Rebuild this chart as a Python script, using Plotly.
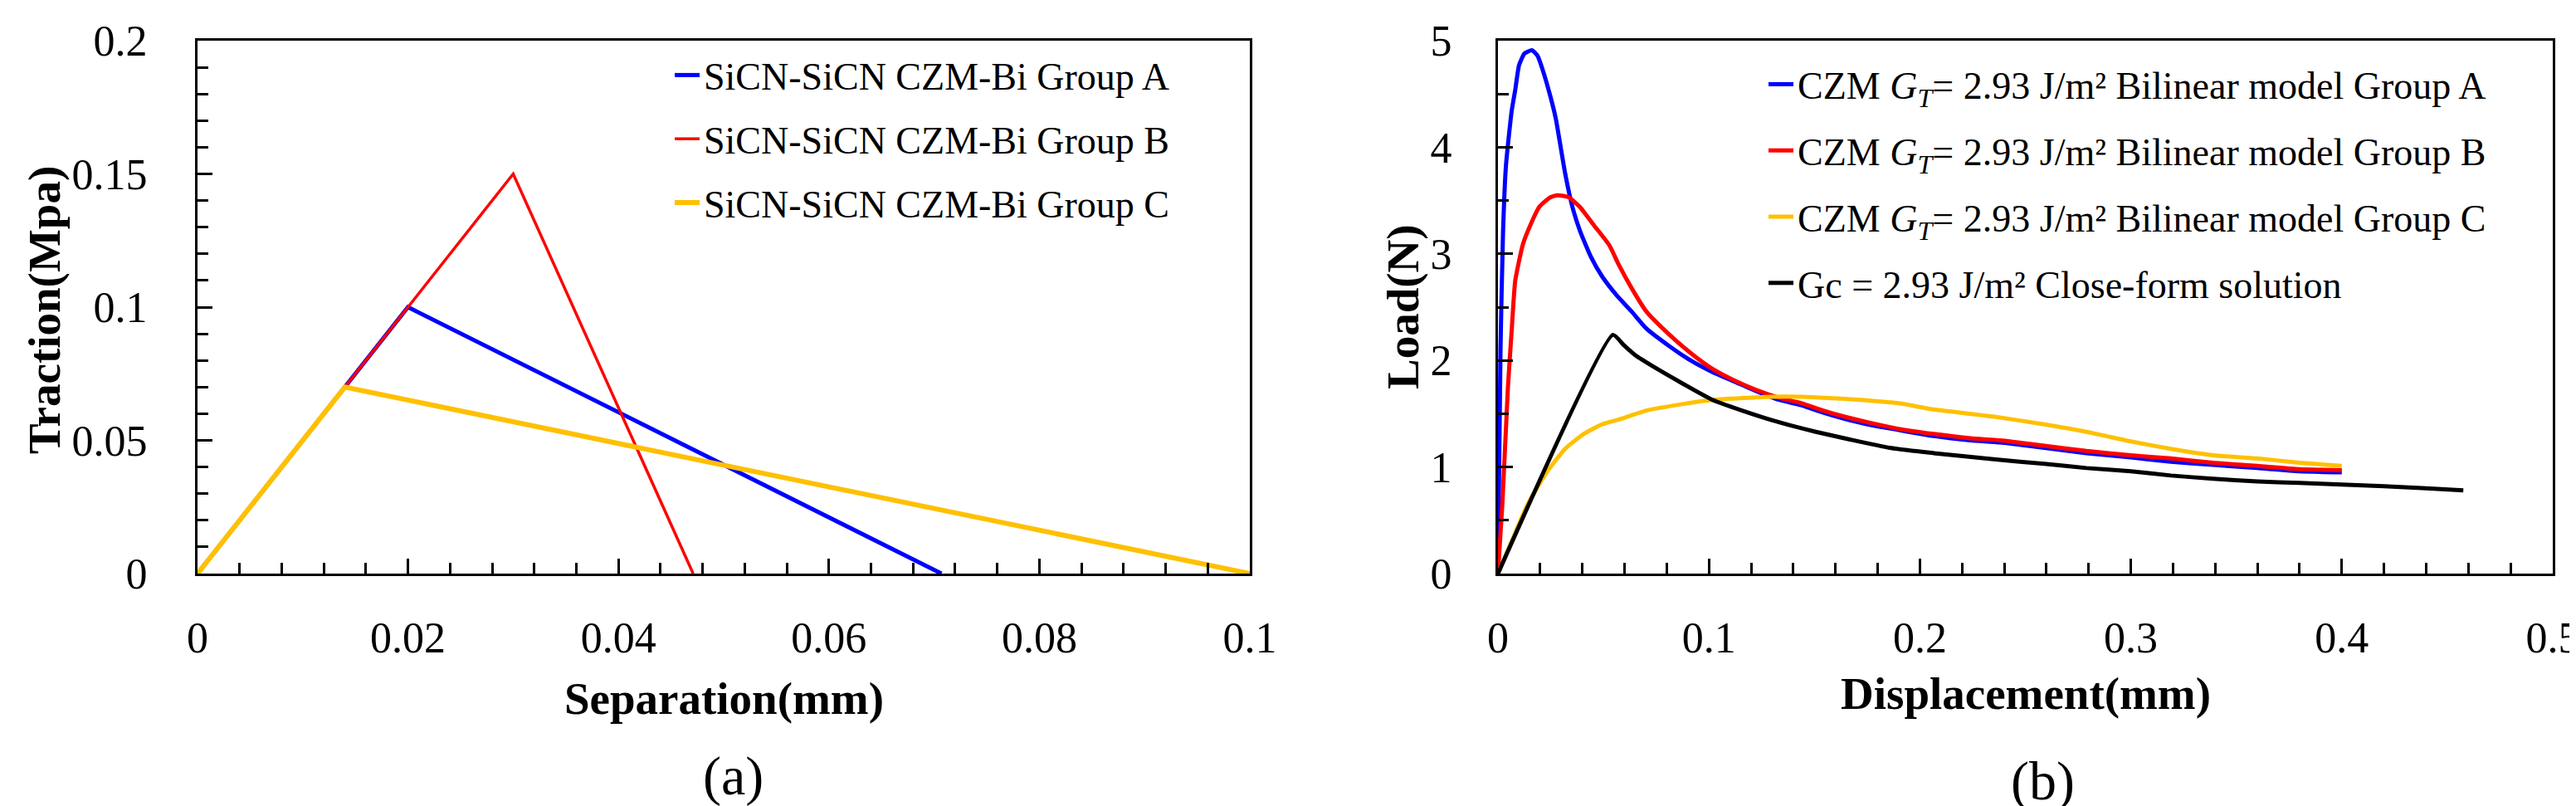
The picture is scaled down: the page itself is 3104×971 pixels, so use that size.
import plotly.graph_objects as go

W, H = 3104, 971
SERIF = "Liberation Serif"

# ---------------- (a) traction-separation data ----------------
sep_A = [0.0, 0.02, 0.0707]
trac_A = [0.0, 0.10, 0.0]
sep_B = [0.0, 0.03, 0.0471]
trac_B = [0.0, 0.15, 0.0]
sep_C = [0.0, 0.014, 0.10]
trac_C = [0.0, 0.07, 0.0]
names_a = ["SiCN-SiCN CZM-Bi Group A", "SiCN-SiCN CZM-Bi Group B", "SiCN-SiCN CZM-Bi Group C"]

# ---------------- (b) load-displacement data ----------------
disp_A = [0.0, 0.0012, 0.0024, 0.0038, 0.0065, 0.0082, 0.010, 0.0126, 0.0161, 0.0187, 0.0213,
          0.0248, 0.0274, 0.0318, 0.0353, 0.0388, 0.0441, 0.0493, 0.0563, 0.0633, 0.0703,
          0.0808, 0.0913, 0.1017, 0.1122, 0.1227, 0.1332, 0.1437, 0.1542, 0.1647, 0.1752,
          0.1892, 0.2066, 0.2241, 0.238, 0.259, 0.279, 0.300, 0.319, 0.339, 0.360, 0.380, 0.400]
load_A = [0.0, 2.1, 3.2, 3.83, 4.34, 4.54, 4.77, 4.88, 4.91, 4.86, 4.72,
          4.48, 4.27, 3.76, 3.44, 3.22, 2.97, 2.79, 2.61, 2.46, 2.30,
          2.14, 2.00, 1.89, 1.80, 1.71, 1.63, 1.58, 1.51, 1.45, 1.40,
          1.35, 1.29, 1.25, 1.23, 1.18, 1.13, 1.09, 1.05, 1.02, 0.99, 0.96, 0.95]

disp_B = [0.0, 0.0021, 0.0047, 0.0065, 0.0082, 0.0117, 0.0143, 0.0196, 0.0248, 0.0283,
          0.0336, 0.0388, 0.0458, 0.0528, 0.0572, 0.0633, 0.0703, 0.0808, 0.0913, 0.1017,
          0.1122, 0.1227, 0.1332, 0.1437, 0.1542, 0.1647, 0.1752, 0.1892, 0.2066, 0.2241,
          0.238, 0.259, 0.279, 0.300, 0.319, 0.339, 0.360, 0.380, 0.400]
load_B = [0.0, 0.66, 1.74, 2.28, 2.75, 3.08, 3.22, 3.44, 3.53, 3.55,
          3.53, 3.44, 3.26, 3.08, 2.90, 2.68, 2.46, 2.25, 2.07, 1.92,
          1.81, 1.72, 1.65, 1.60, 1.53, 1.47, 1.42, 1.36, 1.31, 1.27,
          1.25, 1.20, 1.15, 1.11, 1.08, 1.04, 1.01, 0.98, 0.97]

disp_C = [0.0, 0.0073, 0.0143, 0.0231, 0.0318, 0.0406, 0.0493, 0.058, 0.0703, 0.0843,
          0.1017, 0.1192, 0.1367, 0.1542, 0.1717, 0.1892, 0.2066, 0.236, 0.259, 0.279,
          0.300, 0.319, 0.339, 0.360, 0.380, 0.400]
load_C = [0.0, 0.34, 0.66, 0.95, 1.17, 1.31, 1.40, 1.45, 1.53, 1.58,
          1.63, 1.65, 1.66, 1.65, 1.63, 1.60, 1.54, 1.47, 1.40, 1.33,
          1.24, 1.17, 1.11, 1.08, 1.04, 1.01]

disp_G = [0.0, 0.0545, 0.0598, 0.065, 0.0755, 0.0878, 0.1017, 0.1157, 0.1332, 0.1507,
          0.1664, 0.1857, 0.2066, 0.236, 0.259, 0.279, 0.300, 0.319, 0.339, 0.360,
          0.380, 0.400, 0.420, 0.440, 0.4576]
load_G = [0.0, 2.24, 2.14, 2.05, 1.92, 1.78, 1.63, 1.53, 1.42, 1.33,
          1.26, 1.18, 1.13, 1.07, 1.03, 0.99, 0.96, 0.92, 0.89, 0.865,
          0.85, 0.835, 0.82, 0.80, 0.78]

names_b = ["CZM <i>G<sub>T</sub></i>= 2.93 J/m² Bilinear model Group A",
           "CZM <i>G<sub>T</sub></i>= 2.93 J/m² Bilinear model Group B",
           "CZM <i>G<sub>T</sub></i>= 2.93 J/m² Bilinear model Group C",
           "Gc = 2.93 J/m² Close-form solution"]

# tick labels
xa_ticks = [0, 0.02, 0.04, 0.06, 0.08, 0.1]
xa_labels = ["0", "0.02", "0.04", "0.06", "0.08", "0.1"]
ya_ticks = [0, 0.05, 0.1, 0.15, 0.2]
ya_labels = ["0", "0.05", "0.1", "0.15", "0.2"]
xb_ticks = [0, 0.1, 0.2, 0.3, 0.4, 0.5]
xb_labels = ["0", "0.1", "0.2", "0.3", "0.4", "0.5"]
yb_ticks = [0, 1, 2, 3, 4, 5]
yb_labels = ["0", "1", "2", "3", "4", "5"]

BLUE, RED, YEL, BLK = "#0000FF", "#FF0000", "#FFC000", "#000000"

fig = go.Figure()
for xs, ys, nm, col, wd in [(sep_A, trac_A, names_a[0], BLUE, 5),
                            (sep_B, trac_B, names_a[1], RED, 3.5),
                            (sep_C, trac_C, names_a[2], YEL, 6)]:
    fig.add_trace(go.Scatter(x=xs, y=ys, mode="lines", name=nm, legendgroup=nm,
                             line=dict(color=col, width=wd), xaxis="x", yaxis="y", legend="legend"))

for xs, ys, nm, col in [(disp_A, load_A, names_b[0], BLUE),
                        (disp_B, load_B, names_b[1], RED),
                        (disp_C, load_C, names_b[2], YEL),
                        (disp_G, load_G, names_b[3], BLK)]:
    fig.add_trace(go.Scatter(x=xs, y=ys, mode="lines", name=nm, legendgroup=nm,
                             line=dict(color=col, width=5, shape="spline", smoothing=0.5),
                             xaxis="x2", yaxis="y2", legend="legend2"))

tickfont = dict(family=SERIF, size=52, color="black")


def axis(domain, rng, tv, tt, minor_dt, anchor, standoff):
    return dict(domain=domain, range=rng, tickvals=tv, ticktext=tt, anchor=anchor,
                ticks="inside", ticklen=18, tickwidth=3, tickcolor="black",
                showline=True, linewidth=3, linecolor="black", mirror=True,
                showgrid=False, zeroline=False, tickfont=tickfont, automargin=False,
                ticklabelstandoff=standoff,
                minor=dict(dtick=minor_dt, tick0=0, ticks="inside", ticklen=13,
                           tickwidth=2.5, tickcolor="black", showgrid=False))


ydom = [1 - 683 / H, 1 - 41 / H]
fig.update_layout(
    width=W, height=H, margin=dict(l=0, r=0, t=0, b=0, pad=0, autoexpand=False),
    paper_bgcolor="white", plot_bgcolor="white",
    xaxis=axis([230 / W, 1498 / W], [0, 0.1], xa_ticks, xa_labels, 0.004, "y", 30),
    yaxis=axis(ydom, [0, 0.2], ya_ticks, ya_labels, 0.01, "x", 47),
    xaxis2=axis([1797 / W, 3068 / W], [0, 0.5], xb_ticks, xb_labels, 0.02, "y2", 30),
    yaxis2=axis(ydom, [0, 5], yb_ticks, yb_labels, 0.5, "x2", 42),
    legend=dict(x=800 / W, y=1 - 46 / H, xanchor="left", yanchor="top",
                font=dict(family=SERIF, size=46, color="black"),
                bgcolor="rgba(0,0,0,0)", tracegroupgap=14, itemwidth=30),
    legend2=dict(x=2118 / W, y=1 - 57 / H, xanchor="left", yanchor="top",
                 font=dict(family=SERIF, size=46, color="black"),
                 bgcolor="rgba(0,0,0,0)", tracegroupgap=17, itemwidth=30),
    showlegend=True,
)

ann_font = dict(family=SERIF, size=55, color="black")
annos = [
    dict(text="<b>Separation(mm)</b>", x=864 / W, y=1 - 833 / H),
    dict(text="<b>Displacement(mm)</b>", x=2433 / W, y=1 - 827 / H),
    dict(text="<b>Traction(Mpa)</b>", x=45 / W, y=1 - 366 / H, textangle=-90),
    dict(text="<b>Load(N)</b>", x=1682 / W, y=1 - 361 / H, textangle=-90),
    dict(text="(a)", x=875 / W, y=1 - 927 / H, font=dict(family=SERIF, size=66, color="black")),
    dict(text="(b)", x=2453 / W, y=1 - 933 / H, font=dict(family=SERIF, size=66, color="black")),
]
for a in annos:
    a.setdefault("font", ann_font)
    fig.add_annotation(xref="paper", yref="paper", xanchor="center", yanchor="middle",
                       showarrow=False, **a)

fig.write_html("out.html")
